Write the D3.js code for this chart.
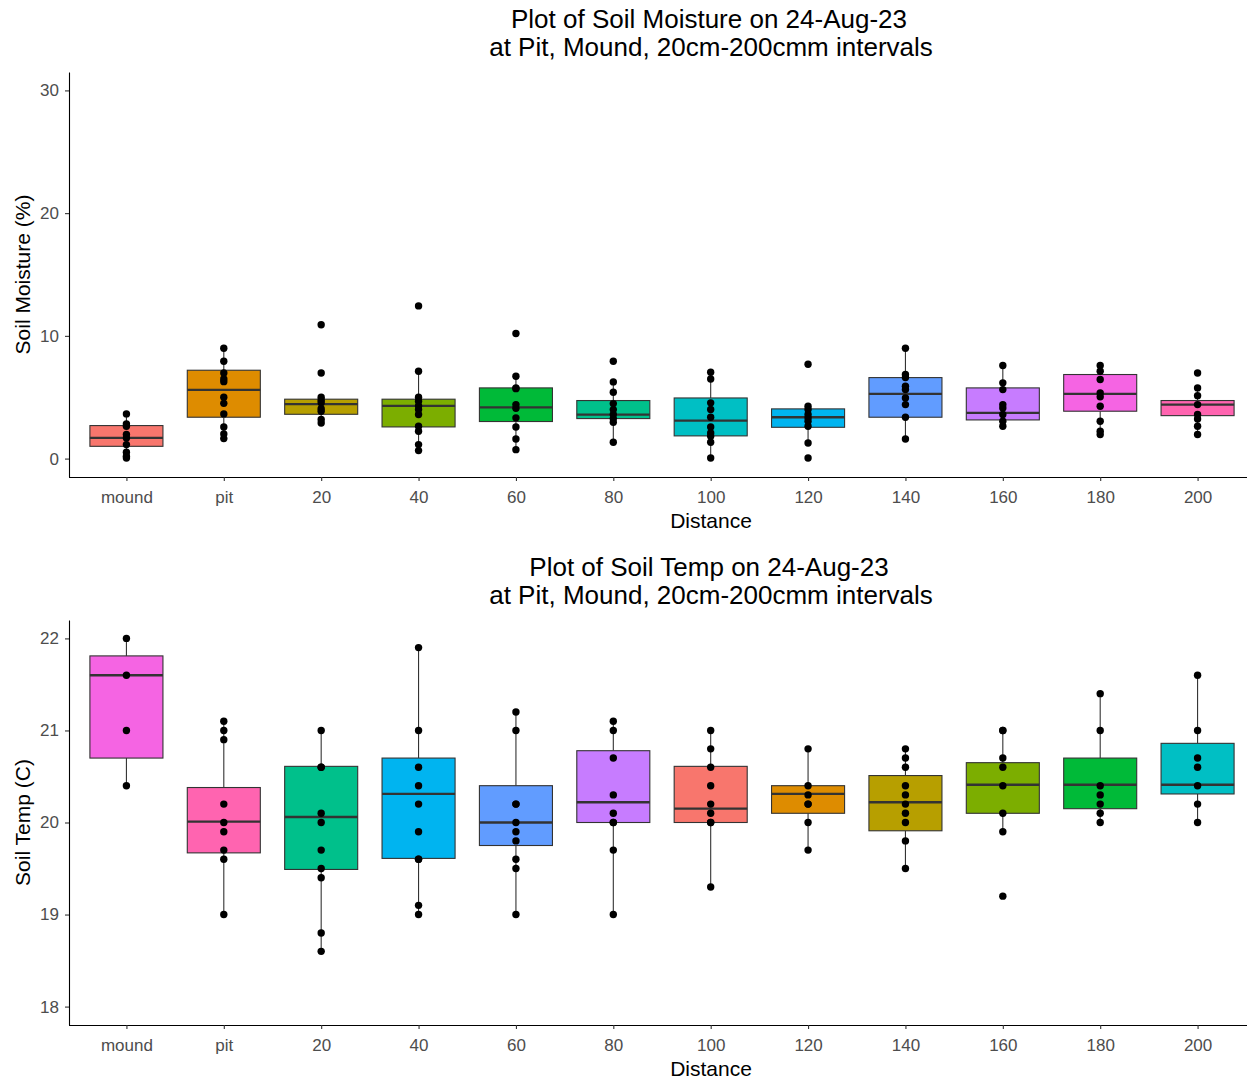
<!DOCTYPE html>
<html>
<head>
<meta charset="utf-8">
<script src="https://cdn.jsdelivr.net/npm/d3@7"></script>
<style>
  html, body { margin: 0; padding: 0; background: #ffffff; }
  svg { display: block; font-family: "Liberation Sans", Arial, sans-serif; }
</style>
</head>
<body>
<svg id="chart" width="1247" height="1082"></svg>
<script>
// Distance categories along the transect
const categories = ["mound", "pit", "20", "40", "60", "80", "100", "120", "140", "160", "180", "200"];

// Soil moisture (%) box statistics per category
const moistureQ1     = [1.00, 3.37, 3.61, 2.58, 3.02, 3.26, 1.85, 2.55, 3.37, 3.15, 3.86, 3.50];
const moistureMedian = [1.68, 5.60, 4.43, 4.29, 4.18, 3.59, 3.10, 3.37, 5.27, 3.72, 5.27, 4.40];
const moistureQ3     = [2.69, 7.20, 4.84, 4.84, 5.76, 4.73, 4.94, 4.05, 6.60, 5.76, 6.85, 4.73];

// Soil moisture (%) individual readings per category
const moisturePoints = [
  [3.64, 2.83, 2.63, 1.96, 1.68, 1.14, 0.52, 0.19, 0.05],
  [8.99, 7.93, 6.98, 6.49, 6.27, 5.00, 4.50, 3.64, 2.58, 2.01, 1.63],
  [10.90, 6.98, 5.00, 4.75, 4.54, 4.07, 3.86, 3.18, 2.90],
  [12.44, 7.12, 5.00, 4.67, 4.29, 3.99, 3.59, 2.63, 2.23, 1.14, 0.65],
  [10.19, 6.71, 5.76, 5.70, 4.40, 4.10, 3.32, 2.58, 1.60, 0.73],
  [7.93, 6.25, 5.41, 4.48, 3.99, 3.59, 3.26, 2.96, 1.33],
  [7.04, 6.49, 4.54, 4.00, 3.37, 2.58, 2.09, 1.82, 1.33, 0.05],
  [7.69, 4.26, 4.00, 3.59, 3.32, 3.04, 2.63, 1.27, 0.05],
  [8.99, 6.85, 6.60, 5.89, 5.62, 4.94, 4.40, 3.37, 1.60],
  [7.58, 6.17, 5.62, 4.40, 4.13, 3.59, 3.04, 2.63],
  [7.58, 7.12, 6.44, 5.35, 5.03, 4.26, 3.04, 2.23, 1.96],
  [6.98, 5.76, 5.13, 4.40, 3.59, 3.23, 2.63, 1.96]
];

// Soil temperature (C) box statistics per category
const tempQ1     = [20.70, 19.67, 19.49, 19.61, 19.75, 20.00, 20.00, 20.10, 19.91, 20.10, 20.15, 20.31];
const tempMedian = [21.60, 20.01, 20.06, 20.31, 20.00, 20.22, 20.15, 20.31, 20.22, 20.41, 20.41, 20.41];
const tempQ3     = [21.81, 20.38, 20.61, 20.70, 20.40, 20.78, 20.61, 20.40, 20.51, 20.65, 20.70, 20.86];

// Soil temperature (C) individual readings per category
const tempPoints = [
  [22.0, 21.6, 21.0, 20.4],
  [21.1, 21.0, 20.9, 20.2, 20.0, 19.9, 19.7, 19.6, 19.0],
  [21.0, 20.6, 20.6, 20.1, 20.0, 19.7, 19.5, 19.4, 18.8, 18.6],
  [21.9, 21.0, 20.6, 20.4, 20.2, 19.9, 19.6, 19.6, 19.1, 19.0],
  [21.2, 21.0, 20.2, 20.2, 20.0, 19.9, 19.8, 19.6, 19.5, 19.0],
  [21.1, 21.0, 20.7, 20.3, 20.1, 20.0, 20.0, 19.7, 19.0],
  [21.0, 20.8, 20.6, 20.4, 20.2, 20.1, 20.0, 20.0, 19.3],
  [20.8, 20.4, 20.3, 20.2, 20.2, 20.0, 19.7],
  [20.8, 20.7, 20.6, 20.4, 20.3, 20.2, 20.1, 20.0, 19.8, 19.5],
  [21.0, 21.0, 20.7, 20.6, 20.4, 20.1, 19.9, 19.2],
  [21.4, 21.0, 20.4, 20.3, 20.2, 20.1, 20.0],
  [21.6, 21.0, 20.7, 20.6, 20.4, 20.2, 20.0]
];

// Fill colours for each panel
const moistureFill = ["#F8766D", "#DE8C00", "#B79F00", "#7CAE00", "#00BA38", "#00C08B",
                      "#00BFC4", "#00B4F0", "#619CFF", "#C77CFF", "#F564E3", "#FF64B0"];
const tempFill     = ["#F564E3", "#FF64B0", "#00C08B", "#00B4F0", "#619CFF", "#C77CFF",
                      "#F8766D", "#DE8C00", "#B79F00", "#7CAE00", "#00BA38", "#00BFC4"];

// Tick values
const moistureTicks = [0, 10, 20, 30];
const tempTicks = [18, 19, 20, 21, 22];

const svg = d3.select("#chart");

function drawPanel(opt) {
  const g = svg.append("g").attr("transform", `translate(0,${opt.top})`);
  const x = d3.scalePoint().domain(categories).range([68, 1256]).padding(0.6);
  const y = d3.scaleLinear().domain(opt.domain).range([405, 0]);
  const boxW = x.step() * 0.75;

  // title (two lines)
  const title = g.append("text")
    .attr("x", 710).attr("text-anchor", "middle")
    .attr("font-size", 26).attr("fill", "#000");
  title.append("tspan").attr("x", 709).attr("y", -44).text(opt.title[0]);
  title.append("tspan").attr("x", 711).attr("y", -16).text(opt.title[1]);

  const rows = categories.map((c, i) => {
    const q1 = opt.q1[i], q3 = opt.q3[i], iqr = q3 - q1;
    const pts = opt.points[i];
    const inside = pts.filter(v => v >= q1 - 1.5 * iqr && v <= q3 + 1.5 * iqr);
    return {
      cat: c, q1, q3, med: opt.med[i], fill: opt.fill[i], pts,
      lo: Math.min(q1, d3.min(inside)), hi: Math.max(q3, d3.max(inside))
    };
  });

  const boxes = g.append("g");
  // whiskers
  boxes.selectAll("line.whisk-hi").data(rows).join("line")
    .attr("x1", d => x(d.cat)).attr("x2", d => x(d.cat))
    .attr("y1", d => y(d.q3)).attr("y2", d => y(d.hi))
    .attr("stroke", "#333333").attr("stroke-width", 1.1);
  boxes.selectAll("line.whisk-lo").data(rows).join("line")
    .attr("x1", d => x(d.cat)).attr("x2", d => x(d.cat))
    .attr("y1", d => y(d.q1)).attr("y2", d => y(d.lo))
    .attr("stroke", "#333333").attr("stroke-width", 1.1);
  // boxes
  boxes.selectAll("rect").data(rows).join("rect")
    .attr("x", d => x(d.cat) - boxW / 2).attr("width", boxW)
    .attr("y", d => y(d.q3)).attr("height", d => y(d.q1) - y(d.q3))
    .attr("fill", d => d.fill).attr("stroke", "#333333").attr("stroke-width", 1.1);
  // medians
  boxes.selectAll("line.med").data(rows).join("line")
    .attr("x1", d => x(d.cat) - boxW / 2).attr("x2", d => x(d.cat) + boxW / 2)
    .attr("y1", d => y(d.med)).attr("y2", d => y(d.med))
    .attr("stroke", "#333333").attr("stroke-width", 2.3);

  // readings
  const pointData = rows.flatMap(d => d.pts.map(v => ({ cat: d.cat, v })));
  g.append("g").selectAll("circle").data(pointData).join("circle")
    .attr("cx", d => x(d.cat)).attr("cy", d => y(d.v)).attr("r", 3.7)
    .attr("fill", "#000");

  // axes
  const xAxis = g.append("g").attr("transform", "translate(0,405)")
    .call(d3.axisBottom(x).tickSize(4).tickSizeOuter(0));
  xAxis.select(".domain").attr("stroke", "#000").attr("stroke-width", 1.1)
    .attr("d", "M69,0.5H1256");
  xAxis.selectAll(".tick line").attr("stroke", "#333333").attr("stroke-width", 1.1);
  xAxis.selectAll(".tick text").attr("dy", null).attr("y", 26)
    .attr("font-size", 17).attr("fill", "#4D4D4D")
    .attr("font-family", "Liberation Sans, Arial, sans-serif");

  const yAxis = g.append("g").attr("transform", "translate(69,0)")
    .call(d3.axisLeft(y).tickValues(opt.ticks).tickFormat(d3.format("d"))
      .tickSize(4).tickPadding(6).tickSizeOuter(0));
  yAxis.select(".domain").attr("stroke", "#000").attr("stroke-width", 1.1);
  yAxis.selectAll(".tick line").attr("stroke", "#333333").attr("stroke-width", 1.1);
  yAxis.selectAll(".tick text").attr("font-size", 17).attr("fill", "#4D4D4D")
    .attr("font-family", "Liberation Sans, Arial, sans-serif");

  // axis titles
  g.append("text").attr("x", 711).attr("y", 456).attr("text-anchor", "middle")
    .attr("font-size", 21).attr("fill", "#000").text("Distance");
  g.append("text").attr("transform", `translate(30,${202.5}) rotate(-90)`)
    .attr("text-anchor", "middle").attr("font-size", 21).attr("fill", "#000")
    .text(opt.yLabel);
}

drawPanel({
  top: 72,
  domain: [-1.5, 31.5],
  ticks: moistureTicks,
  q1: moistureQ1, med: moistureMedian, q3: moistureQ3,
  points: moisturePoints, fill: moistureFill,
  title: ["Plot of Soil Moisture on 24-Aug-23", "at Pit, Mound, 20cm-200cmm intervals"],
  yLabel: "Soil Moisture (%)"
});

drawPanel({
  top: 620,
  domain: [17.8, 22.2],
  ticks: tempTicks,
  q1: tempQ1, med: tempMedian, q3: tempQ3,
  points: tempPoints, fill: tempFill,
  title: ["Plot of Soil Temp on 24-Aug-23", "at Pit, Mound, 20cm-200cmm intervals"],
  yLabel: "Soil Temp (C)"
});
</script>
</body>
</html>
